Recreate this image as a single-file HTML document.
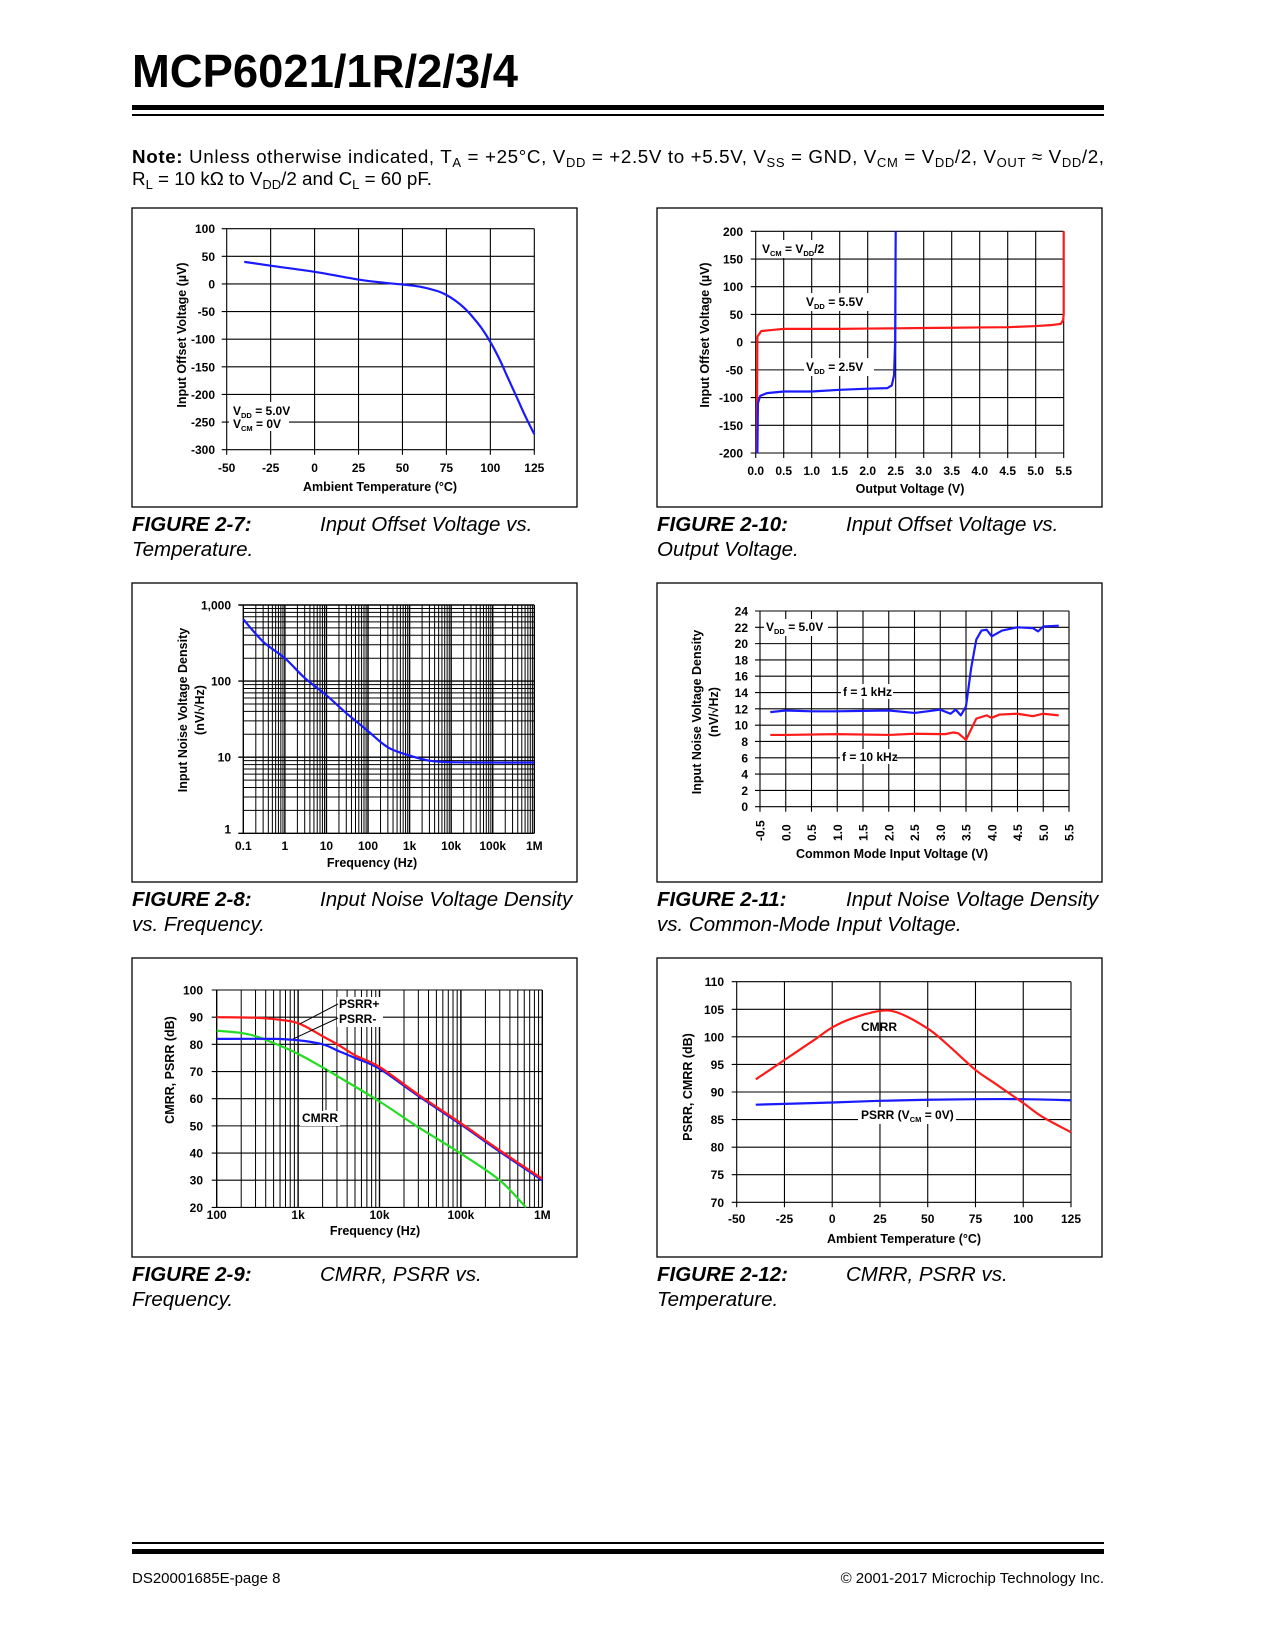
<!DOCTYPE html>
<html><head><meta charset="utf-8"><title>MCP6021 typical performance curves</title>
<style>
html,body{margin:0;padding:0;background:#fff;}
svg{display:block;}
text{font-family:"Liberation Sans",Arial,sans-serif;fill:#000;}
.tk{font-size:12px;font-weight:bold;}
.at{font-size:12.5px;font-weight:bold;}
.cap{font-size:20.5px;font-style:italic;}
.capb{font-size:20.5px;font-style:italic;font-weight:bold;}
</style></head>
<body>
<svg id="page" width="1275" height="1650" viewBox="0 0 1275 1650" xmlns="http://www.w3.org/2000/svg">
<rect x="0" y="0" width="1275" height="1650" fill="#fff"/>
<text x="132" y="87" font-size="46" font-weight="bold" textLength="386" lengthAdjust="spacingAndGlyphs">MCP6021/1R/2/3/4</text>
<rect x="132" y="105" width="972" height="5" fill="#000"/>
<rect x="132" y="114" width="972" height="2" fill="#000"/>
<text x="132" y="163" font-size="18.8" textLength="972" lengthAdjust="spacing"><tspan font-weight="bold">Note:</tspan> Unless otherwise indicated, T<tspan font-size="13" dy="4">A</tspan><tspan dy="-4"> = +25°C, V</tspan><tspan font-size="13" dy="4">DD</tspan><tspan dy="-4"> = +2.5V to +5.5V, V</tspan><tspan font-size="13" dy="4">SS</tspan><tspan dy="-4"> = GND, V</tspan><tspan font-size="13" dy="4">CM</tspan><tspan dy="-4"> = V</tspan><tspan font-size="13" dy="4">DD</tspan><tspan dy="-4">/2, V</tspan><tspan font-size="13" dy="4">OUT</tspan><tspan dy="-4"> ≈ V</tspan><tspan font-size="13" dy="4">DD</tspan><tspan dy="-4">/2,</tspan></text>
<text x="132" y="185" font-size="18.8">R<tspan font-size="13" dy="4">L</tspan><tspan dy="-4"> = 10 kΩ to V</tspan><tspan font-size="13" dy="4">DD</tspan><tspan dy="-4">/2 and C</tspan><tspan font-size="13" dy="4">L</tspan><tspan dy="-4"> = 60 pF.</tspan></text>

<rect x="132" y="208" width="445" height="299" fill="none" stroke="#000" stroke-width="1.3"/>
<rect x="657" y="208" width="445" height="299" fill="none" stroke="#000" stroke-width="1.3"/>
<rect x="132" y="583" width="445" height="299" fill="none" stroke="#000" stroke-width="1.3"/>
<rect x="657" y="583" width="445" height="299" fill="none" stroke="#000" stroke-width="1.3"/>
<rect x="132" y="958" width="445" height="299" fill="none" stroke="#000" stroke-width="1.3"/>
<rect x="657" y="958" width="445" height="299" fill="none" stroke="#000" stroke-width="1.3"/>

<text class="capb" x="132" y="531">FIGURE 2-7:</text>
<text class="cap" x="320" y="531">Input Offset Voltage vs.</text>
<text class="cap" x="132" y="556">Temperature.</text>
<text class="capb" x="657" y="531">FIGURE 2-10:</text>
<text class="cap" x="846" y="531">Input Offset Voltage vs.</text>
<text class="cap" x="657" y="556">Output Voltage.</text>
<text class="capb" x="132" y="906">FIGURE 2-8:</text>
<text class="cap" x="320" y="906">Input Noise Voltage Density</text>
<text class="cap" x="132" y="931">vs. Frequency.</text>
<text class="capb" x="657" y="906">FIGURE 2-11:</text>
<text class="cap" x="846" y="906">Input Noise Voltage Density</text>
<text class="cap" x="657" y="931">vs. Common-Mode Input Voltage.</text>
<text class="capb" x="132" y="1281">FIGURE 2-9:</text>
<text class="cap" x="320" y="1281">CMRR, PSRR vs.</text>
<text class="cap" x="132" y="1306">Frequency.</text>
<text class="capb" x="657" y="1281">FIGURE 2-12:</text>
<text class="cap" x="846" y="1281">CMRR, PSRR vs.</text>
<text class="cap" x="657" y="1306">Temperature.</text>

<rect x="132" y="1542" width="972" height="2" fill="#000"/>
<rect x="132" y="1549" width="972" height="5" fill="#000"/>
<text x="132" y="1583" font-size="15">DS20001685E-page 8</text>
<text x="1104" y="1583" font-size="15" text-anchor="end">© 2001-2017 Microchip Technology Inc.</text>
</svg>
<script>
// ---------- Figure 2-7 data ----------
const f7Temp = [-40,-25,0,25,40,50,60,70,75,80,85,90,95,100,105,110,115,120,125];
const f7Vos = [40,33,22,8,2,-1,-5,-13,-20,-30,-43,-60,-80,-105,-135,-170,-205,-240,-272];
const f7XTicks = [-50,-25,0,25,50,75,100,125];
const f7YTicks = [100,50,0,-50,-100,-150,-200,-250,-300];
// ---------- Figure 2-10 data ----------
const f10Vout55 = [0.02,0.03,0.1,0.3,0.5,1.0,1.5,2.0,2.5,3.0,3.5,4.0,4.5,5.0,5.3,5.45,5.49,5.5,5.5];
const f10Vos55 = [-200,10,20,22,24,24,24,24.5,25,25.5,26,26.5,27,29,31,33,40,50,200];
const f10Vout25 = [0.03,0.04,0.08,0.2,0.5,1.0,1.5,2.0,2.35,2.43,2.47,2.49,2.5];
const f10Vos25 = [-200,-110,-97,-92,-89,-89,-86,-84,-83,-78,-60,0,200];
const f10XTicks = [0,0.5,1,1.5,2,2.5,3,3.5,4,4.5,5,5.5];
const f10YTicks = [200,150,100,50,0,-50,-100,-150,-200];
// ---------- Figure 2-8 data ----------
const f8Freq = [0.1,0.3,1,3,10,30,100,300,1000,3000,10000,100000,1000000];
const f8Noise = [650,330,200,110,65,38,22,13.5,10.5,9,8.6,8.5,8.5];
const f8XTickLabels = ['0.1','1','10','100','1k','10k','100k','1M'];
const f8YTickLabels = ['1,000','100','10','1'];
// ---------- Figure 2-11 data ----------
const f11Vcm1k = [-0.3,0,0.5,1,1.5,2,2.5,3,3.2,3.3,3.4,3.5,3.6,3.7,3.8,3.9,4.0,4.2,4.5,4.8,4.9,5.0,5.3];
const f11Noise1k = [11.6,11.8,11.7,11.7,11.75,11.8,11.5,11.9,11.4,11.9,11.2,12.3,17,20.5,21.6,21.7,20.9,21.6,22,21.9,21.5,22.1,22.2];
const f11Vcm10k = [-0.3,0,1,2,2.5,3,3.1,3.25,3.35,3.5,3.7,3.9,4.0,4.15,4.5,4.8,5.0,5.3];
const f11Noise10k = [8.8,8.8,8.9,8.8,8.95,8.9,8.9,9.1,9.0,8.2,10.8,11.2,10.9,11.3,11.4,11.1,11.4,11.2];
const f11XTickLabels = ['-0.5','0.0','0.5','1.0','1.5','2.0','2.5','3.0','3.5','4.0','4.5','5.0','5.5'];
const f11YTicks = [24,22,20,18,16,14,12,10,8,6,4,2,0];
// ---------- Figure 2-9 data ----------
const f9FreqPsrrP = [100,300,500,1000,2000,3160,5000,10000,30000,100000,300000,1000000];
const f9PsrrP = [90,89.8,89.3,87.8,83,79.7,76,71.7,61.5,51,41,30.5];
const f9FreqPsrrN = [100,500,1000,2000,3160,5000,10000,30000,100000,300000,1000000];
const f9PsrrN = [82,82,81.5,80,77.5,75,71,61,50.5,40.5,30];
const f9FreqCmrr = [100,200,300,500,1000,2000,3160,10000,30000,100000,300000,630000];
const f9Cmrr = [85,84.2,83,80.5,76.5,71.5,68,59,49.5,39.8,30,20];
const f9XTickLabels = ['100','1k','10k','100k','1M'];
const f9YTicks = [100,90,80,70,60,50,40,30,20];
// ---------- Figure 2-12 data ----------
const f12TempCmrr = [-40,-25,-10,0,10,25,35,50,60,75,85,100,110,125];
const f12Cmrr = [92.3,95.8,99.3,101.7,103.3,104.7,104.3,101.5,98.7,94,91.6,88,85.5,82.7];
const f12TempPsrr = [-40,0,25,50,75,100,125];
const f12Psrr = [87.7,88.1,88.4,88.6,88.7,88.7,88.5];
const f12XTicks = [-50,-25,0,25,50,75,100,125];
const f12YTicks = [110,105,100,95,90,85,80,75,70];

const NS = 'http://www.w3.org/2000/svg';
const page = document.getElementById('page');
function mk(parent, tag, attrs, txt) {
  const e = document.createElementNS(NS, tag);
  for (const k in attrs) e.setAttribute(k, attrs[k]);
  if (txt !== undefined) e.textContent = txt;
  parent.appendChild(e);
  return e;
}
function lin(d0, d1, r0, r1) { return v => r0 + (v - d0) * (r1 - r0) / (d1 - d0); }
function lg(d0, d1, r0, r1) { const a = Math.log10(d0), b = Math.log10(d1); return v => r0 + (Math.log10(v) - a) * (r1 - r0) / (b - a); }
function polyD(xs, ys, X, Y) { return 'M' + xs.map((v, i) => X(v).toFixed(2) + ',' + Y(ys[i]).toFixed(2)).join('L'); }
function smoothD(xs, ys, X, Y) {
  const p = xs.map((v, i) => [X(v), Y(ys[i])]);
  let d = 'M' + p[0][0].toFixed(2) + ',' + p[0][1].toFixed(2);
  for (let i = 0; i < p.length - 1; i++) {
    const p0 = p[i - 1] || p[i], p1 = p[i], p2 = p[i + 1], p3 = p[i + 2] || p2;
    const c1x = p1[0] + (p2[0] - p0[0]) / 6, c1y = p1[1] + (p2[1] - p0[1]) / 6;
    const c2x = p2[0] - (p3[0] - p1[0]) / 6, c2y = p2[1] - (p3[1] - p1[1]) / 6;
    d += 'C' + c1x.toFixed(2) + ',' + c1y.toFixed(2) + ' ' + c2x.toFixed(2) + ',' + c2y.toFixed(2) + ' ' + p2[0].toFixed(2) + ',' + p2[1].toFixed(2);
  }
  return d;
}
function vline(g, x, y0, y1, w) {
  const l = mk(g, 'line', {x1: x, x2: x, y1: y0, y2: y1, stroke: '#000', 'stroke-width': w || 1.1});
  
  
  return l;
}
function hline(g, y, x0, x1, w) {
  const l = mk(g, 'line', {x1: x0, x2: x1, y1: y, y2: y, stroke: '#000', 'stroke-width': w || 1.1});
  
  
  return l;
}
function label(g, x, y, txt, anchor, cls) {
  const t = mk(g, 'text', {x: x, y: y, 'text-anchor': anchor || 'middle', class: cls || 'tk'}, txt);
  
  
  return t;
}
function whiteBox(g, x, y, w, h) {
  const r = mk(g, 'rect', {x: x, y: y, width: w, height: h, fill: '#fff'});
  
  
  return r;
}
function curve(g, d, color, name) {
  const p = mk(g, 'path', {d: d, fill: 'none', stroke: color, 'stroke-width': 2.2, 'stroke-linejoin': 'round'});
  
  
  return p;
}
function ytitle(g, x, y, txt, name) {
  const t = mk(g, 'text', {x: x, y: y, 'text-anchor': 'middle', class: 'at', transform: 'rotate(-90 ' + x + ' ' + y + ')'});
  t.innerHTML = txt;
  
  
  return t;
}
function htmlText(g, x, y, html, anchor, name) {
  const t = mk(g, 'text', {x: x, y: y, 'text-anchor': anchor || 'start', class: 'tk', 'font-size': '11'});
  t.innerHTML = html;
  
  
  return t;
}
const SUB = s => '<tspan font-size="7.5" dy="3">' + s + '</tspan><tspan dy="-3">';

// ===== Figure 2-7 =====
(function () {
  const g = mk(page, 'g', {});
  
  
  const X = lin(-50, 125, 226.7, 534.3), Y = lin(100, -300, 228.7, 449.7);
  f7XTicks.forEach(v => { vline(g, X(v), Y(100), Y(-300) + 5); label(g, X(v), 472, String(v)); });
  f7YTicks.forEach(v => { hline(g, Y(v), X(-50) - 5, X(125)); label(g, 215, Y(v) + 4.5, String(v), 'end'); });
  whiteBox(g, 229, 402, 60, 29);
  htmlText(g, 233, 415, 'V' + SUB('DD') + ' = 5.0V</tspan>', 'start', 'vdd-annotation');
  htmlText(g, 233, 428, 'V' + SUB('CM') + ' = 0V</tspan>', 'start', 'vcm-annotation');
  curve(g, smoothD(f7Temp, f7Vos, X, Y), '#1a1aff', 'offset-voltage-curve');
  label(g, 380, 491, 'Ambient Temperature (°C)', 'middle', 'at');
  ytitle(g, 186, 335, 'Input Offset Voltage (µV)', 'y-axis-title');
})();

// ===== Figure 2-10 =====
(function () {
  const g = mk(page, 'g', {});
  
  
  const X = lin(0, 5.5, 755.7, 1063.7), Y = lin(200, -200, 231.3, 453);
  f10XTicks.forEach(v => { vline(g, X(v), Y(200), Y(-200) + 5); label(g, X(v), 475, v.toFixed(1)); });
  f10YTicks.forEach(v => { hline(g, Y(v), X(0) - 5, X(5.5)); label(g, 743, Y(v) + 4.5, String(v), 'end'); });
  whiteBox(g, 760, 240, 70, 18);
  htmlText(g, 762, 253, 'V' + SUB('CM') + ' = V</tspan>' + SUB('DD') + '/2</tspan>', 'start', 'vcm-annotation');
  whiteBox(g, 804, 293, 70, 18);
  htmlText(g, 806, 306, 'V' + SUB('DD') + ' = 5.5V</tspan>', 'start', 'vdd-5v5-label');
  whiteBox(g, 804, 358, 70, 18);
  htmlText(g, 806, 371, 'V' + SUB('DD') + ' = 2.5V</tspan>', 'start', 'vdd-2v5-label');
  curve(g, polyD(f10Vout55, f10Vos55, X, Y), '#ff1a1a', 'vdd-5v5-curve');
  curve(g, polyD(f10Vout25, f10Vos25, X, Y), '#1a1aff', 'vdd-2v5-curve');
  label(g, 910, 493, 'Output Voltage (V)', 'middle', 'at');
  ytitle(g, 709, 335, 'Input Offset Voltage (µV)', 'y-axis-title');
})();

// ===== Figure 2-8 =====
(function () {
  const g = mk(page, 'g', {});
  
  
  const X = lg(0.1, 1e6, 243.3, 534.3), Y = lg(1, 1000, 833.3, 605);
  for (let d = 0.1; d < 1e6 * 0.99; d *= 10) for (let m = 1; m < 10; m++) vline(g, X(d * m), Y(1000), Y(1), m === 1 ? 1.4 : 1);
  vline(g, X(1e6), Y(1000), Y(1), 1.4);
  for (let d = 1; d < 999; d *= 10) for (let m = 1; m < 10; m++) hline(g, Y(d * m), X(0.1) - (m === 1 ? 5 : 0), X(1e6), m === 1 ? 1.4 : 1);
  hline(g, Y(1000), X(0.1) - 5, X(1e6), 1.4);
  f8XTickLabels.forEach((s, i) => label(g, X(0.1 * Math.pow(10, i)), 850, s));
  f8YTickLabels.forEach((s, i) => label(g, 231, Y(Math.pow(10, 3 - i)) + (i === 3 ? 0 : 4.5), s, 'end'));
  curve(g, smoothD(f8Freq, f8Noise, X, Y), '#1a1aff', 'noise-density-curve');
  label(g, 372, 867, 'Frequency (Hz)', 'middle', 'at');
  ytitle(g, 187, 710, 'Input Noise Voltage Density', 'y-axis-title');
  ytitle(g, 204, 710, '(nV/√Hz)', 'y-axis-units');
})();

// ===== Figure 2-11 =====
(function () {
  const g = mk(page, 'g', {});
  
  
  const X = lin(-0.5, 5.5, 760, 1069), Y = lin(0, 24, 806.7, 611);
  f11XTickLabels.forEach(s => {
    const v = parseFloat(s);
    vline(g, X(v), Y(24), Y(0) + 5);
    const t = mk(g, 'text', {x: X(v) + 4.5, y: 841, class: 'tk', transform: 'rotate(-90 ' + (X(v) + 4.5) + ' 841)'}, s);
    
    
  });
  f11YTicks.forEach(v => { hline(g, Y(v), X(-0.5) - 5, X(5.5)); label(g, 748, Y(v) + 4.5, String(v), 'end'); });
  whiteBox(g, 764, 619, 64, 17);
  htmlText(g, 766, 631, 'V' + SUB('DD') + ' = 5.0V</tspan>', 'start', 'vdd-annotation');
  whiteBox(g, 841, 684, 52, 15);
  htmlText(g, 843, 696, 'f = 1 kHz', 'start', 'f-1khz-label');
  whiteBox(g, 840, 749, 56, 15);
  htmlText(g, 842, 761, 'f = 10 kHz', 'start', 'f-10khz-label');
  curve(g, polyD(f11Vcm1k, f11Noise1k, X, Y), '#1a1aff', 'f-1khz-curve');
  curve(g, polyD(f11Vcm10k, f11Noise10k, X, Y), '#ff1a1a', 'f-10khz-curve');
  label(g, 892, 858, 'Common Mode Input Voltage (V)', 'middle', 'at');
  ytitle(g, 701, 712, 'Input Noise Voltage Density', 'y-axis-title');
  ytitle(g, 718, 712, '(nV/√Hz)', 'y-axis-units');
})();

// ===== Figure 2-9 =====
(function () {
  const g = mk(page, 'g', {});
  
  
  const X = lg(100, 1e6, 216.7, 542.3), Y = lin(20, 100, 1207.4, 990);
  for (let d = 100; d < 1e6 * 0.99; d *= 10) for (let m = 1; m < 10; m++) vline(g, X(d * m), Y(100), Y(20), m === 1 ? 1.4 : 1);
  vline(g, X(1e6), Y(100), Y(20), 1.4);
  f9YTicks.forEach(v => { hline(g, Y(v), X(100) - 5, X(1e6)); label(g, 203, Y(v) + 4.5, String(v), 'end'); });
  f9XTickLabels.forEach((s, i) => label(g, X(100 * Math.pow(10, i)), 1219, s));
  whiteBox(g, 337, 997, 46, 30);
  htmlText(g, 339, 1008, 'PSRR+', 'start', 'psrr-plus-label');
  htmlText(g, 339, 1023, 'PSRR-', 'start', 'psrr-minus-label');
  whiteBox(g, 300, 1111, 40, 15);
  htmlText(g, 302, 1122, 'CMRR', 'start', 'cmrr-label');
  curve(g, smoothD(f9FreqCmrr, f9Cmrr, X, Y), '#22dd22', 'cmrr-curve');
  curve(g, smoothD(f9FreqPsrrN, f9PsrrN, X, Y), '#1a1aff', 'psrr-minus-curve');
  curve(g, smoothD(f9FreqPsrrP, f9PsrrP, X, Y), '#ff1a1a', 'psrr-plus-curve');
  [[338, 1004, X(1050), Y(87.5)], [338, 1018, X(870), Y(82)], [326, 1110, X(2200), Y(71)]].forEach(a => {
    const l = mk(g, 'line', {x1: a[0], y1: a[1], x2: a[2], y2: a[3], stroke: '#000', 'stroke-width': 1});
    
    
  });
  label(g, 375, 1235, 'Frequency (Hz)', 'middle', 'at');
  ytitle(g, 174, 1070, 'CMRR, PSRR (dB)', 'y-axis-title');
})();

// ===== Figure 2-12 =====
(function () {
  const g = mk(page, 'g', {});
  
  
  const X = lin(-50, 125, 736.7, 1071), Y = lin(70, 110, 1202.3, 981.7);
  f12XTicks.forEach(v => { vline(g, X(v), Y(110), Y(70) + 5); label(g, X(v), 1223, String(v)); });
  f12YTicks.forEach(v => { hline(g, Y(v), X(-50) - 5, X(125)); label(g, 724, Y(v) + 4.5, String(v), 'end'); });
  whiteBox(g, 858, 1107, 98, 17);
  htmlText(g, 861, 1119, 'PSRR (V' + SUB('CM') + ' = 0V)</tspan>', 'start', 'psrr-label');
  curve(g, smoothD(f12TempPsrr, f12Psrr, X, Y), '#1a1aff', 'psrr-curve');
  curve(g, smoothD(f12TempCmrr, f12Cmrr, X, Y), '#ff1a1a', 'cmrr-curve');
  htmlText(g, 861, 1031, 'CMRR', 'start', 'cmrr-label');
  label(g, 904, 1243, 'Ambient Temperature (°C)', 'middle', 'at');
  ytitle(g, 692, 1087, 'PSRR, CMRR (dB)', 'y-axis-title');
})();
</script>
</body></html>
